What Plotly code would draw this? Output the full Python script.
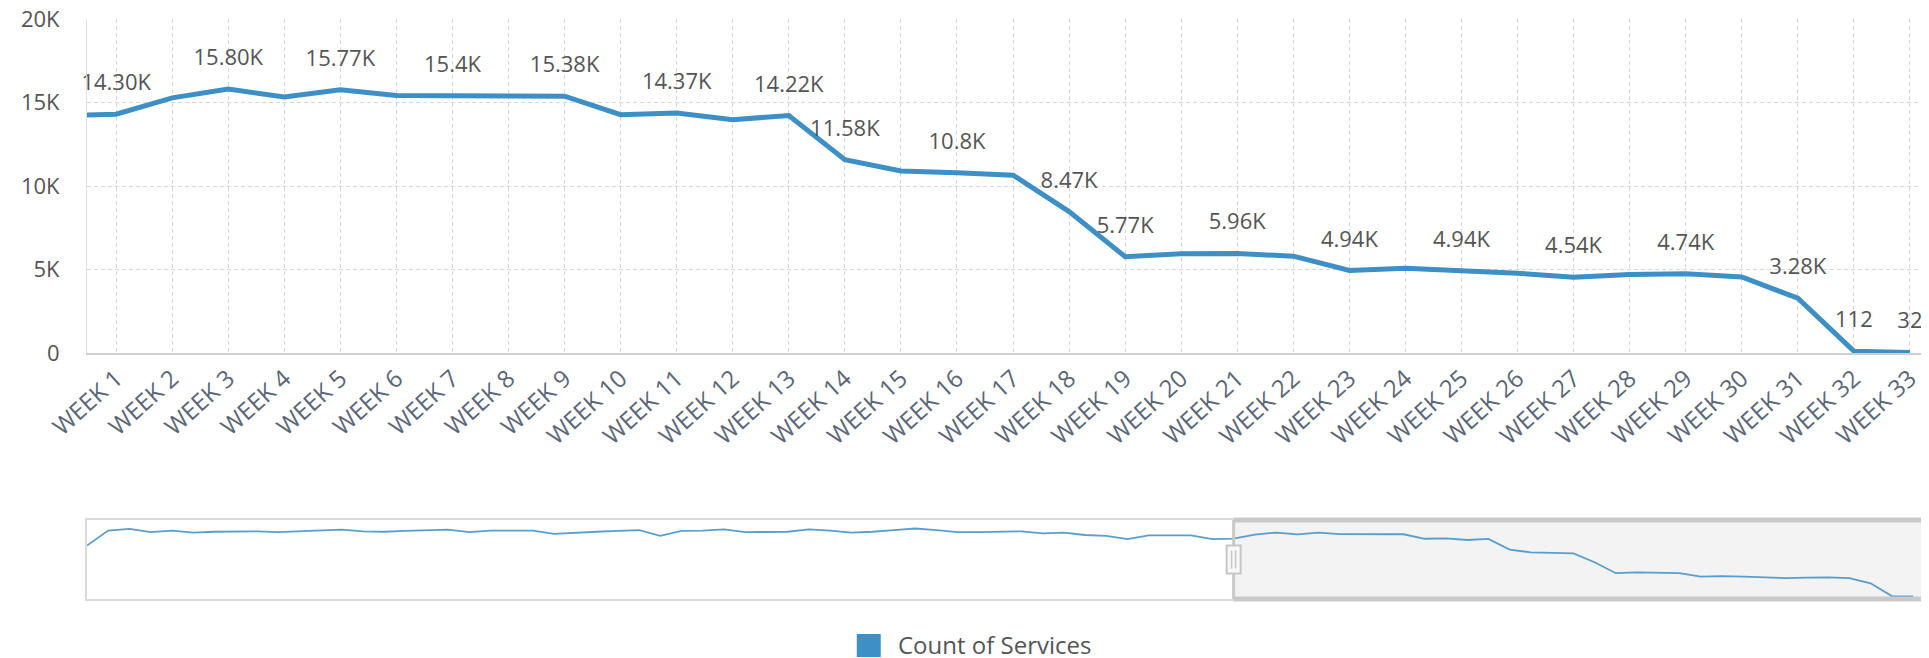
import plotly.graph_objects as go

# Weekly count of services (the zoomed window shown in the main chart)
week_labels = [
    "WEEK 1", "WEEK 2", "WEEK 3", "WEEK 4", "WEEK 5", "WEEK 6", "WEEK 7", "WEEK 8",
    "WEEK 9", "WEEK 10", "WEEK 11", "WEEK 12", "WEEK 13", "WEEK 14", "WEEK 15",
    "WEEK 16", "WEEK 17", "WEEK 18", "WEEK 19", "WEEK 20", "WEEK 21", "WEEK 22",
    "WEEK 23", "WEEK 24", "WEEK 25", "WEEK 26", "WEEK 27", "WEEK 28", "WEEK 29",
    "WEEK 30", "WEEK 31", "WEEK 32", "WEEK 33",
]
week_counts = [
    14300, 15280, 15800, 15330, 15770, 15420, 15400, 15430, 15380, 14270, 14370,
    13970, 14220, 11580, 10900, 10800, 10650, 8470, 5770, 5950, 5960, 5800,
    4940, 5070, 4940, 4780, 4540, 4700, 4740, 4550, 3280, 112, 32,
]
point_labels = [
    "14.30K", "", "15.80K", "", "15.77K", "", "15.4K", "", "15.38K", "", "14.37K",
    "", "14.22K", "11.58K", "", "10.8K", "", "8.47K", "5.77K", "", "5.96K", "",
    "4.94K", "", "4.94K", "", "4.54K", "", "4.74K", "", "3.28K", "112", "32",
]

# Earlier weeks, only visible in the navigator strip
earlier_counts = [
    12600, 16300, 16700, 15900, 16300, 15800, 16000, 16100, 16100, 15900, 16100,
    16400, 16500, 16100, 16000, 16200, 16400, 16500, 15900, 16300, 16300, 16300,
    15500, 15800, 16000, 16200, 16400, 15000, 16200, 16300, 16600, 15900, 16000,
    16000, 16600, 16300, 15800, 16000, 16400, 16800, 16400, 15900, 15900, 16000,
    16100, 15600, 15800, 15200, 15000, 14200, 15100, 15100, 15100, 14200,
]

series_name = "Count of Services"

BLUE = "#3d8fc5"
GRID = "#d6d6d6"

all_counts = earlier_counts + week_counts
all_x = list(range(-len(earlier_counts), len(week_counts)))
all_text = [""] * len(earlier_counts) + point_labels

fig = go.Figure()

# main line with value labels
fig.add_trace(go.Scatter(
    x=all_x, y=all_counts,
    mode="lines+markers+text",
    text=all_text,
    textposition="top center",
    textfont=dict(size=22, color="#555555"),
    line=dict(color=BLUE, width=5),
    marker=dict(size=28, opacity=0),
    cliponaxis=False,
    showlegend=False,
    hoverinfo="skip",
    xaxis="x", yaxis="y",
))

# navigator
fig.add_trace(go.Scatter(
    x=all_x, y=all_counts,
    mode="lines",
    line=dict(color=BLUE, width=1.8),
    opacity=0.85,
    showlegend=False,
    hoverinfo="skip",
    xaxis="x2", yaxis="y2",
))

sel_start = 0
nav_end = len(week_counts) - 0.25
nav_top = 0.1362
handle_mid = 9150

# the page body adds an 8px offset, so margins are trimmed by that amount
fig.update_layout(
    width=1929, height=658,
    margin=dict(l=79, r=8, t=11, b=67),
    paper_bgcolor="white", plot_bgcolor="white",
    font=dict(family="Open Sans, sans-serif", color="#555555"),
    showlegend=False,
    xaxis=dict(
        domain=[0, 1], anchor="y",
        range=[-0.52, len(week_counts) - 0.66],
        tickmode="array", tickvals=list(range(len(week_labels))), ticktext=week_labels,
        tickangle=-42, tickfont=dict(size=24, color="#5b6678"),
        showgrid=True, gridcolor=GRID, griddash="4px,3px",
        showline=True, linecolor="#cfcfcf", linewidth=2,
        zeroline=False, ticks="", automargin=False, ticklabeloverflow="allow",
    ),
    yaxis=dict(
        domain=[0.4241, 1], anchor="x",
        range=[0, 20000],
        tickmode="array",
        tickvals=[0, 5000, 10000, 15000, 20000],
        ticktext=["0", "5K", "10K", "15K", "20K"],
        tickfont=dict(size=22, color="#555555"),
        showgrid=True, gridcolor=GRID, griddash="4px,3px",
        showline=True, linecolor="#e0e0e0", linewidth=1,
        zeroline=False, ticks="", ticklabelstandoff=22, automargin=False,
        ticklabeloverflow="allow",
    ),
    xaxis2=dict(
        domain=[0, 1], anchor="y2",
        range=[-len(earlier_counts), nav_end],
        showticklabels=False, showgrid=False, zeroline=False,
        showline=True, mirror=True, linecolor="#dadada", linewidth=2,
        automargin=False,
    ),
    yaxis2=dict(
        domain=[0, nav_top], anchor="x2",
        range=[-600, 18900],
        showticklabels=False, showgrid=False, zeroline=False,
        showline=True, mirror=True, linecolor="#dadada", linewidth=2,
        automargin=False,
    ),
    shapes=[
        # selected window in navigator
        dict(type="rect", xref="x2", yref="paper", x0=sel_start, x1=nav_end,
             y0=0, y1=nav_top, fillcolor="#f3f3f3", line=dict(width=0), layer="below"),
        dict(type="line", xref="x2", yref="paper", x0=sel_start, x1=nav_end,
             y0=nav_top, y1=nav_top, line=dict(color="#c9c9c9", width=5)),
        dict(type="line", xref="x2", yref="paper", x0=sel_start, x1=nav_end,
             y0=0, y1=0, line=dict(color="#c9c9c9", width=5)),
        dict(type="line", xref="x2", yref="paper", x0=sel_start, x1=sel_start,
             y0=0, y1=nav_top, line=dict(color="#c9c9c9", width=3)),
        # drag handle
        dict(type="rect", xref="x2", yref="y2", xsizemode="pixel", ysizemode="pixel",
             xanchor=sel_start, yanchor=handle_mid, x0=-7, x1=7, y0=-14, y1=14,
             fillcolor="#f8f8f8", line=dict(color="#c6c6c6", width=2)),
        dict(type="line", xref="x2", yref="y2", xsizemode="pixel", ysizemode="pixel",
             xanchor=sel_start, yanchor=handle_mid, x0=-2, x1=-2, y0=-9, y1=9,
             line=dict(color="#c6c6c6", width=1.5)),
        dict(type="line", xref="x2", yref="y2", xsizemode="pixel", ysizemode="pixel",
             xanchor=sel_start, yanchor=handle_mid, x0=2, x1=2, y0=-9, y1=9,
             line=dict(color="#c6c6c6", width=1.5)),
        # legend swatch
        dict(type="rect", xref="paper", yref="paper", x0=0.4179, x1=0.4309,
             y0=-0.1, y1=-0.0603, fillcolor=BLUE, line=dict(width=0)),
    ],
    annotations=[
        dict(text=series_name, xref="paper", yref="paper", x=0.4392, y=-0.0793,
             xanchor="left", yanchor="middle", showarrow=False,
             font=dict(size=24, color="#555555")),
    ],
)

fig.write_html("out.html")
